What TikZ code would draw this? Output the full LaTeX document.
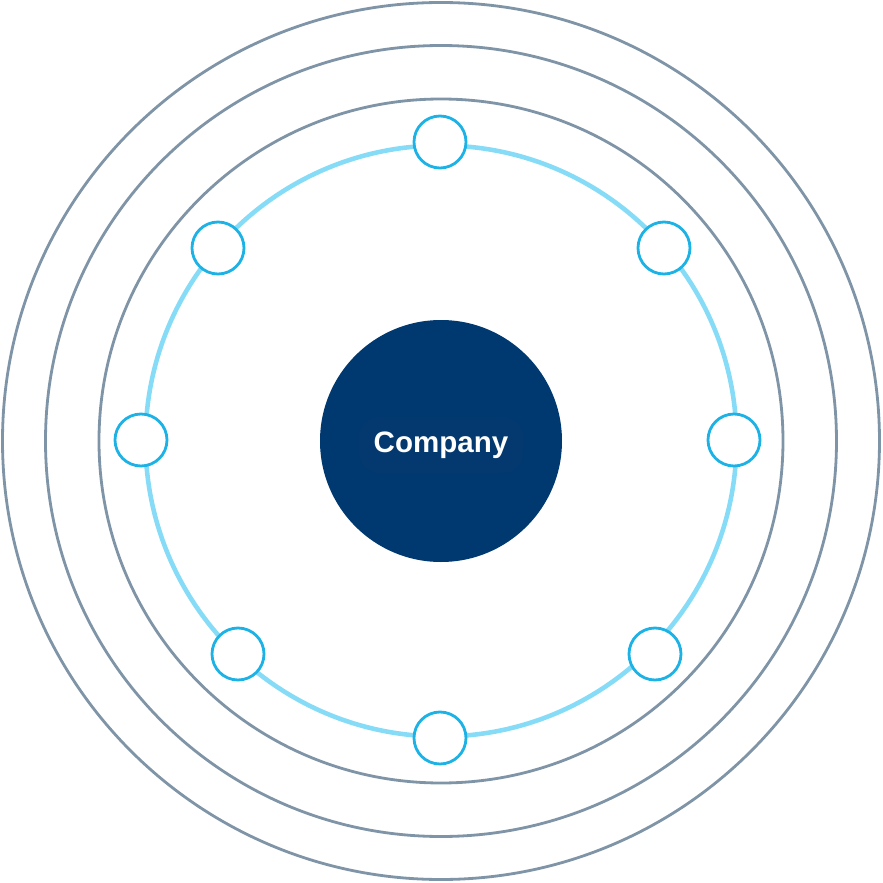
\documentclass[tikz,border=0pt]{standalone}
\usepackage{fontspec}
\setmainfont{Liberation Sans}
\usetikzlibrary{positioning}
\definecolor{ringgray}{HTML}{7F95A7}
\definecolor{orbitblue}{HTML}{86DCF7}
\definecolor{dotblue}{HTML}{1DB2E6}
\definecolor{corenavy}{HTML}{003870}
\definecolor{labelnavy}{HTML}{04396F}

\begin{document}
\begin{tikzpicture}[
    line width=0.7pt,
    ring/.style   = {draw=ringgray, line width=0.8pt},
    orbit/.style  = {draw=orbitblue, line width=1.3pt},
    dot/.style    = {circle, draw=dotblue, fill=white, line width=0.8pt,
                     minimum size=5.2mm, inner sep=0pt},
    core/.style   = {circle, fill=corenavy, minimum size=24.2mm, inner sep=0pt},
    corelabel/.style = {fill=labelnavy, rounded corners=2mm, text=white,
                     font=\bfseries\fontsize{8.4}{10}\selectfont,
                     minimum width=16.5mm, minimum height=5.6mm},
  ]
  \useasboundingbox (-4.41,-4.42) rectangle (4.42,4.41);

  % --- Rings ------------------------------------------------------------
  \coordinate (hub) at (0,0);
  \draw[ring] (hub) circle (4.385);
  \draw[ring] (hub) circle (3.955);
  \draw[ring] (hub) circle (3.42);
  \draw[orbit] (hub) circle (2.955);

  % --- Centre -----------------------------------------------------------
  \node[core] (company) at (hub) {};
  \node[corelabel, yshift=-0.4mm] (companytext) at (company) {Company};

  % --- Dots on the orbit ------------------------------------------------
  \node[dot] (dotN)  at (-0.01, 2.99) {};
  \node[dot] (dotNE) at ( 2.23, 1.93) {};
  \node[dot] (dotE)  at ( 2.93, 0.01) {};
  \node[dot] (dotSE) at ( 2.14,-2.13) {};
  \node[dot] (dotS)  at (-0.01,-2.97) {};
  \node[dot] (dotSW) at (-2.03,-2.13) {};
  \node[dot] (dotW)  at (-3.00, 0.01) {};
  \node[dot] (dotNW) at (-2.23, 1.93) {};

\end{tikzpicture}
\end{document}
